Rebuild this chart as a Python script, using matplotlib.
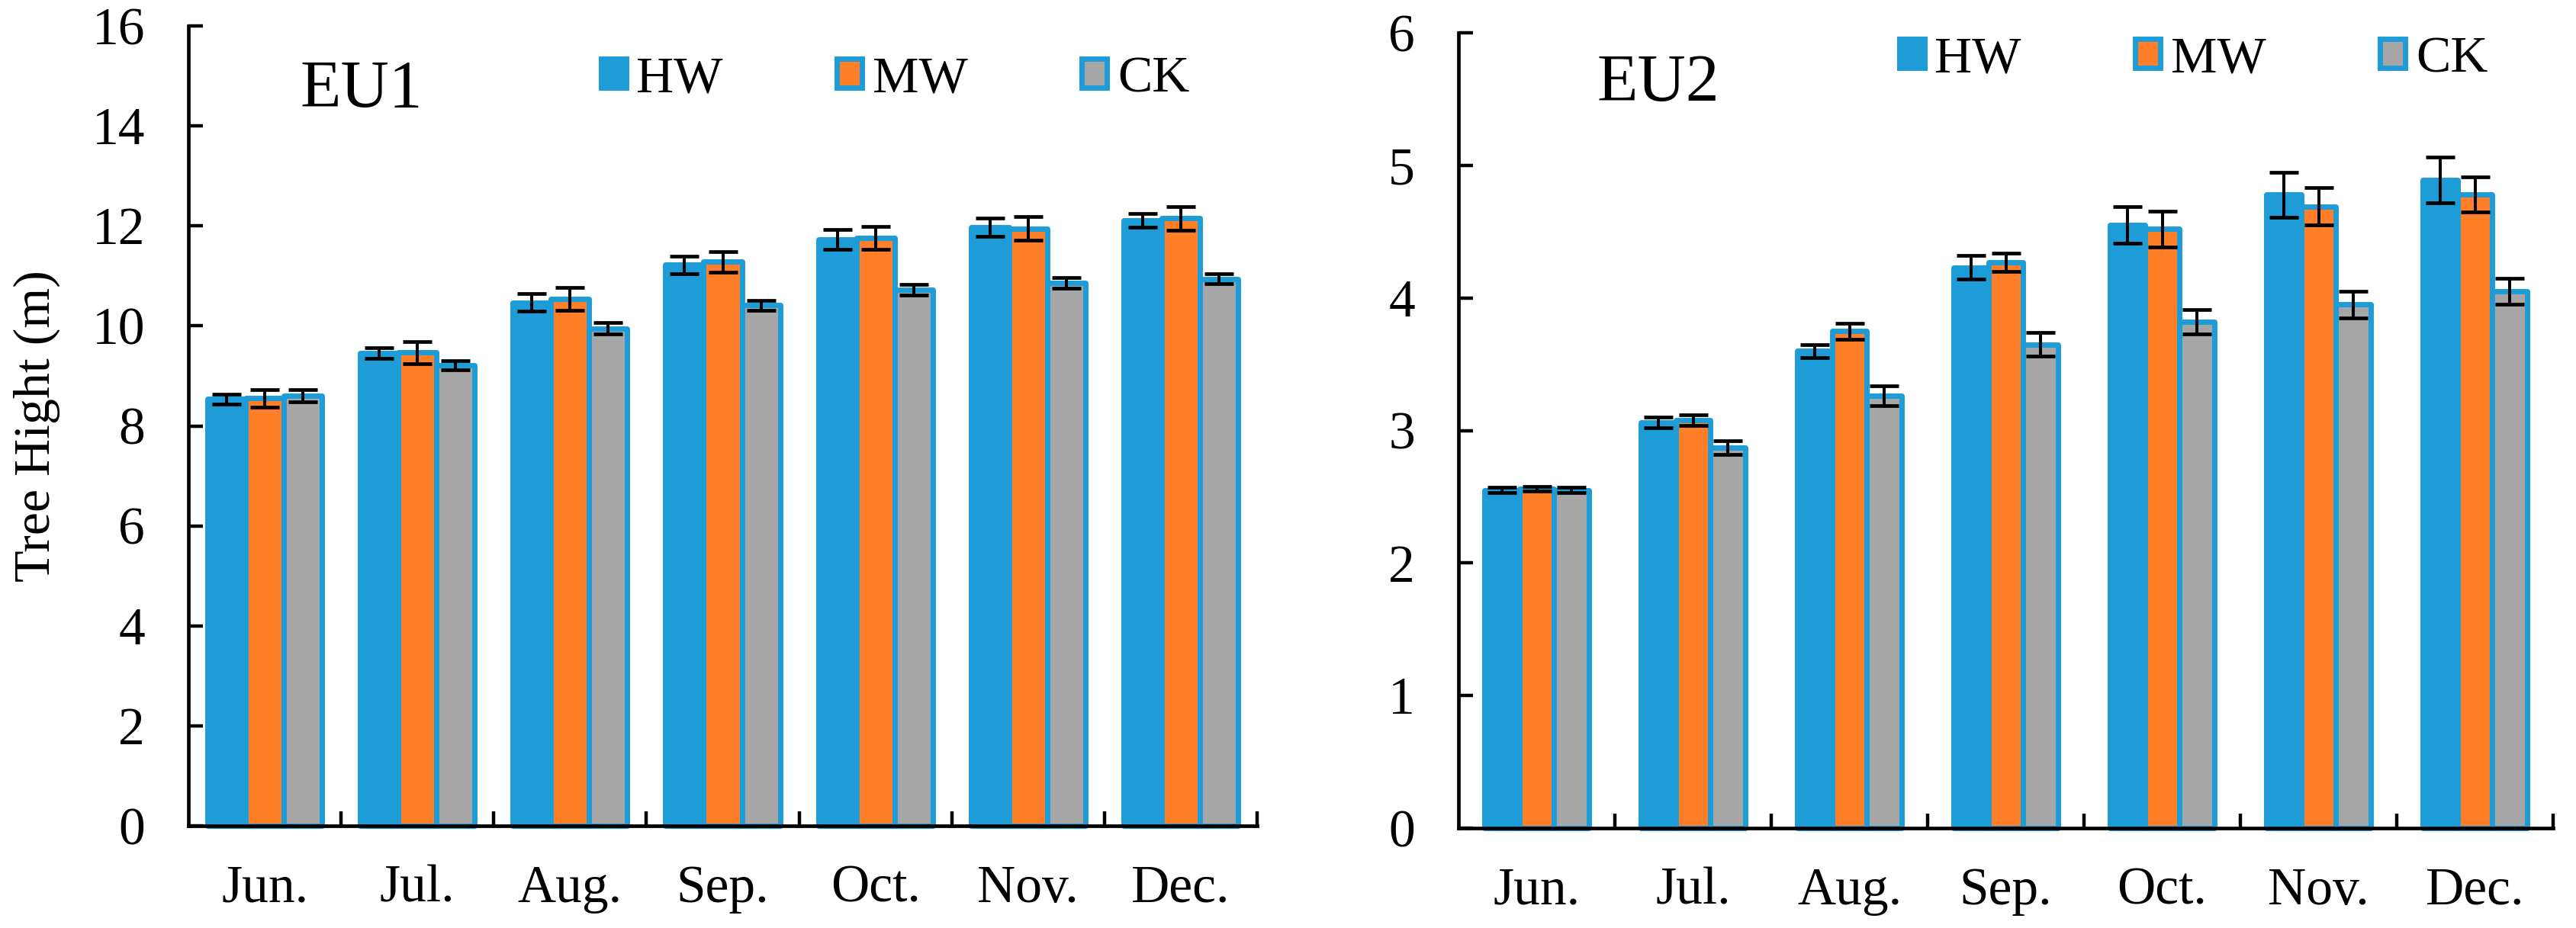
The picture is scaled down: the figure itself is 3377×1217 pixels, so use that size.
import matplotlib
matplotlib.use('Agg')
import matplotlib.pyplot as plt
import numpy as np
from matplotlib.patches import Patch

plt.rcParams['font.family'] = ['Liberation Serif', 'DejaVu Serif']

months = ['Jun.', 'Jul.', 'Aug.', 'Sep.', 'Oct.', 'Nov.', 'Dec.']
series = ['HW', 'MW', 'CK']

eu1_hw = [8.54, 9.46, 10.47, 11.22, 11.73, 11.97, 12.11]
eu1_hw_err = [0.10, 0.11, 0.18, 0.17, 0.20, 0.18, 0.14]
eu1_mw = [8.55, 9.47, 10.54, 11.28, 11.76, 11.95, 12.15]
eu1_mw_err = [0.17, 0.22, 0.23, 0.20, 0.23, 0.24, 0.24]
eu1_ck = [8.60, 9.21, 9.95, 10.41, 10.72, 10.86, 10.94]
eu1_ck_err = [0.12, 0.09, 0.11, 0.10, 0.11, 0.10, 0.10]

eu2_hw = [2.55, 3.06, 3.60, 4.23, 4.55, 4.78, 4.89]
eu2_hw_err = [0.02, 0.04, 0.05, 0.09, 0.14, 0.17, 0.17]
eu2_mw = [2.56, 3.08, 3.75, 4.27, 4.52, 4.69, 4.78]
eu2_mw_err = [0.02, 0.04, 0.06, 0.07, 0.135, 0.14, 0.13]
eu2_ck = [2.55, 2.87, 3.26, 3.65, 3.82, 3.95, 4.05]
eu2_ck_err = [0.02, 0.05, 0.075, 0.09, 0.09, 0.10, 0.10]

BLUE = '#1e9cd8'
colors = [BLUE, '#fe7f27', '#a6a6a6']

W, H = 3377, 1217
fig = plt.figure(figsize=(W / 100, H / 100), dpi=100)


def px_rect(x0, x1, ytop, ybot):
    return [x0 / W, 1 - ybot / H, (x1 - x0) / W, (ybot - ytop) / H]


def draw(ax, vals, errs, width, ymax, step):
    x = np.arange(len(months))
    for i, (v, e, c) in enumerate(zip(vals, errs, colors)):
        pos = x + (i - 1) * width
        ax.bar(pos, v, width, color=c, edgecolor=BLUE, linewidth=5.0,
               zorder=2 + i, clip_on=False, joinstyle='round')
        ax.errorbar(pos, v, yerr=e, fmt='none', ecolor='black',
                    elinewidth=2.9, capsize=13.7, capthick=3.4, zorder=10,
                    clip_on=False)
    ax.set_xlim(-0.5, len(months) - 0.5)
    ax.set_ylim(0, ymax)
    ax.set_yticks(np.arange(0, ymax + step / 2, step))
    ax.set_xticks(np.arange(0.5, len(months), 1))
    ax.set_xticks(x, minor=True)
    ax.set_xticklabels([])
    ax.set_xticklabels(months, minor=True)
    for s in ['top', 'right']:
        ax.spines[s].set_visible(False)
    for s in ['left', 'bottom']:
        ax.spines[s].set_linewidth(3.4)
        ax.spines[s].set_zorder(20)
    ax.tick_params(axis='y', direction='in', length=13.7, width=3.2,
                   labelsize=50, pad=41)
    ax.tick_params(axis='x', which='major', direction='in', length=13.7,
                   width=3.2, labelbottom=False)
    ax.tick_params(axis='x', which='minor', length=0, labelsize=50, pad=37)
    ax.set_facecolor('none')


ax1 = fig.add_axes(px_rect(247, 1648, 34, 1083))
draw(ax1, [eu1_hw, eu1_mw, eu1_ck], [eu1_hw_err, eu1_mw_err, eu1_ck_err],
     0.25, 16, 2)
ax1.set_ylabel('Tree Hight (m)', fontsize=49)
ax1.yaxis.set_label_coords(-0.12, 0.5)

ax2 = fig.add_axes(px_rect(1912, 3347, 43, 1086))
draw(ax2, [eu2_hw, eu2_mw, eu2_ck], [eu2_hw_err, eu2_mw_err, eu2_ck_err],
     0.224, 6, 1)

fig.text(393 / W, 1 - 140 / H, 'EU1', fontsize=63, ha='left', va='baseline')
fig.text(2093 / W, 1 - 132 / H, 'EU2', fontsize=63, ha='left', va='baseline')

handles = [Patch(facecolor=c, edgecolor=BLUE, linewidth=5.0, joinstyle='round')
           for c in colors]
for ax, lx, ly in [(ax1, 787.5, 104), (ax2, 2489.5, 78)]:
    ax.legend(handles, series, ncol=3, loc='center left',
              bbox_to_anchor=(lx / W, 1 - ly / H),
              bbox_transform=fig.transFigure, frameon=False, fontsize=49,
              borderpad=0, borderaxespad=0, handlelength=0.485,
              handleheight=0.485, handletextpad=0.2, columnspacing=2.2)

fig.savefig('out.png', dpi=100)
